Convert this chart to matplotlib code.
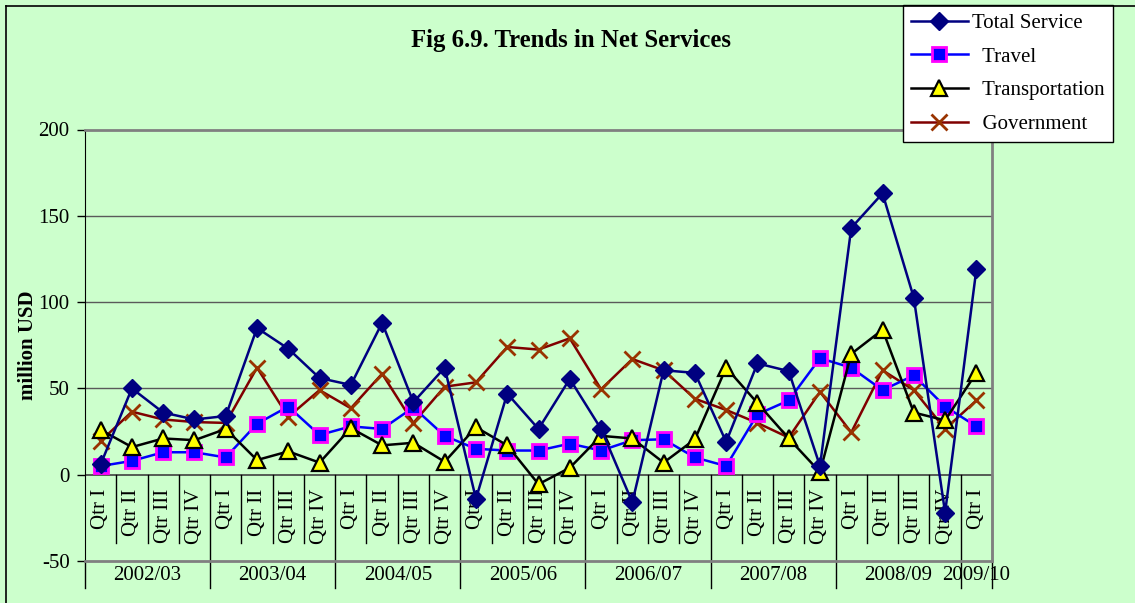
import matplotlib
matplotlib.use("Agg")
import matplotlib.pyplot as plt
from matplotlib.lines import Line2D

# Net services, million USD, quarterly 2002/03 Q1 .. 2009/10 Q1
quarters = ["Qtr I", "Qtr II", "Qtr III", "Qtr IV"] * 7 + ["Qtr I"]
years = ["2002/03", "2003/04", "2004/05", "2005/06", "2006/07", "2007/08", "2008/09", "2009/10"]
year_start = [0, 4, 8, 12, 16, 20, 24, 28]
year_len = [4, 4, 4, 4, 4, 4, 4, 1]

total_service = [6, 50, 36, 32, 34, 85, 73, 56, 52, 88, 42, 62, -14, 47, 26.5, 55.5,
                 26.5, -16, 60.5, 59, 19, 64.5, 60, 5, 143, 163, 102.5, -22, 119]
travel = [5, 8, 13, 13, 10, 29.5, 39.5, 23, 28, 26.5, 39, 22.5, 15, 14, 14, 18,
          14, 20, 20.5, 10, 5, 35, 43, 67.5, 62, 49, 57.5, 39.5, 28]
transportation = [26, 16, 21, 20, 26.5, 8.5, 13.5, 7, 27, 17, 18.5, 7.5, 27.5, 17, -5.5, 4,
                  22.5, 21, 7, 20.5, 62, 41.5, 21, 1.5, 70, 84, 36, 31.5, 59]
government = [19.5, 36.5, 32, 30.5, 30, 62, 33.5, 49, 38.5, 58.5, 30, 51, 53.5, 74, 72.5, 79,
              49.5, 67, 60.5, 44, 37.5, 30, 21.5, 48, 24.5, 60.5, 49, 26.5, 43]

BG = "#CCFFCC"
plt.rcParams["font.family"] = ["Liberation Serif", "DejaVu Serif"]
plt.rcParams["axes.unicode_minus"] = False

W, H = 1135, 603
fig = plt.figure(figsize=(W / 100, H / 100), dpi=100, facecolor=BG)
ax = fig.add_axes([85 / W, 1 - 561 / H, (992 - 85) / W, (561 - 129.5) / H])
ax.set_facecolor(BG)

x = list(range(len(quarters)))
ax.plot(x, total_service, color="#000080", lw=1.8, marker="D", ms=9,
        mfc="#000080", mec="#000080", label="Total Service", zorder=5)
ax.plot(x, travel, color="#0000FF", lw=1.8, marker="s", ms=9.5,
        mfc="#0000FF", mec="#FF00FF", mew=2, label="  Travel", zorder=4)
ax.plot(x, transportation, color="black", lw=1.8, marker="^", ms=11,
        mfc="#FFFF00", mec="black", mew=1.6, label="  Transportation", zorder=4)
ax.plot(x, government, color="#800000", lw=1.8, marker="x", ms=11,
        mec="#993300", mew=2, label="  Government", zorder=3)

ax.set_xlim(-0.5, len(quarters) - 0.5)
ax.set_ylim(-50, 200)
ax.set_yticks([-50, 0, 50, 100, 150, 200])
ax.tick_params(axis="y", labelsize=15, length=6, width=1, pad=5, direction="out")
ax.set_xticks([])

for v in [50, 100, 150]:
    ax.axhline(v, color="#5a5a5a", lw=1, zorder=1)
ax.axhline(0, color="#404040", lw=1.2, zorder=2)

for side in ["top", "right", "bottom"]:
    ax.spines[side].set_color("#808080")
    ax.spines[side].set_linewidth(2)
ax.spines["left"].set_color("black")

# multi-level category labels
low = -65.7
n = len(quarters)
for i in range(1, n + 1):
    b = i - 0.5
    bottom = low if (i in year_start or i == n) else -39.7
    ax.plot([b, b], [0, bottom], color="black", lw=1, clip_on=False, zorder=2)
ax.plot([-0.5, -0.5], [-50, low], color="black", lw=1, clip_on=False, zorder=2)

for i, q in enumerate(quarters):
    ax.text(i, -8, q, rotation=90, ha="center", va="top", fontsize=15, zorder=1)
for yr, s, ln in zip(years, year_start, year_len):
    ax.text(s + (ln - 1) / 2, -58.5, yr, ha="center", va="center", fontsize=15,
            clip_on=False, zorder=1)

ax.set_ylabel("million USD", fontsize=15, fontweight="bold")
ax.yaxis.set_label_coords(-0.052, 0.5)

fig.text(571 / W, 1 - 40 / H, "Fig 6.9. Trends in Net Services", ha="center", va="center",
         fontsize=17.8, fontweight="bold")

leg = ax.legend(loc="upper left", bbox_to_anchor=(903 / W, 1 - 5 / H),
                bbox_transform=fig.transFigure, fontsize=15, frameon=True, fancybox=False,
                facecolor="white", edgecolor="black", framealpha=1,
                handlelength=2.7, handletextpad=0.2, labelspacing=0.68,
                borderpad=0.4, borderaxespad=0)
leg.get_frame().set_linewidth(1)
leg.set_zorder(10)

# chart area border
fig.add_artist(Line2D([6 / W, 6 / W], [0, 1 - 6 / H], color="black", lw=1.2,
                      transform=fig.transFigure))
fig.add_artist(Line2D([6 / W, 1], [1 - 6 / H, 1 - 6 / H], color="black", lw=1.2,
                      transform=fig.transFigure))

fig.savefig("out.png", dpi=100, facecolor=BG)
